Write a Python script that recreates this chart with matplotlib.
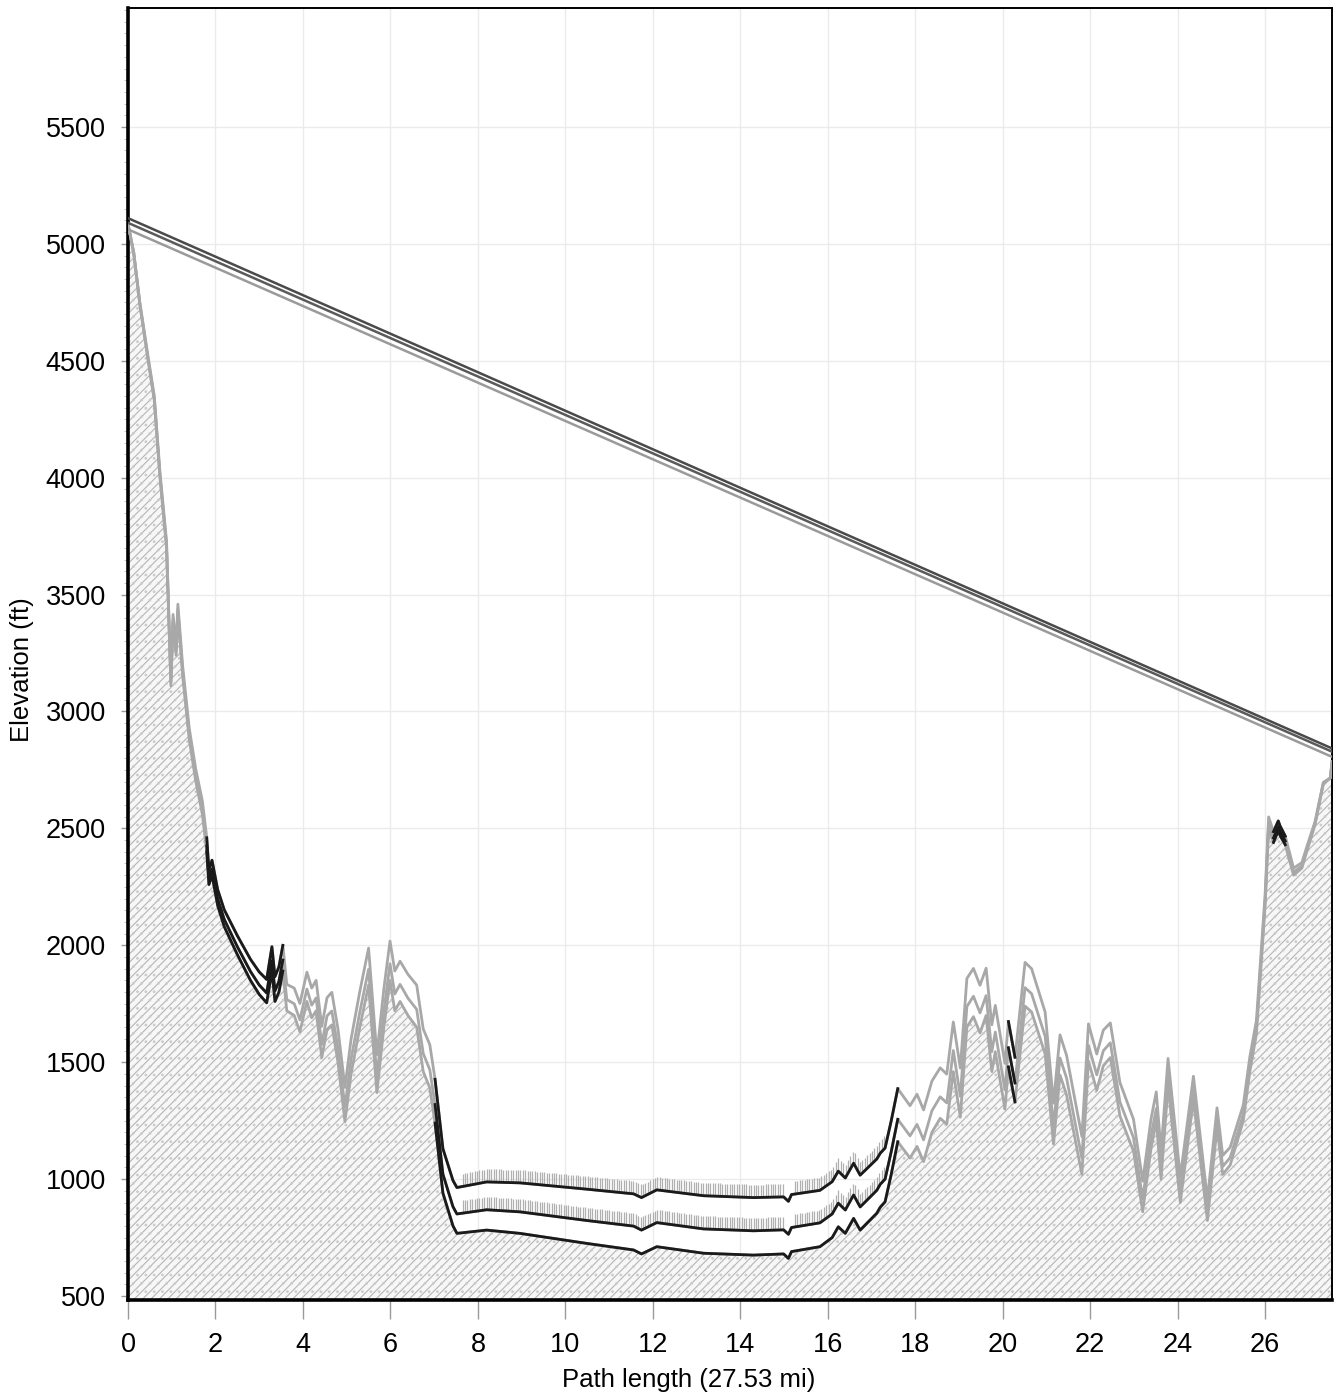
import numpy as np
import matplotlib.pyplot as plt

plt.rcParams['font.family'] = ['Liberation Sans', 'DejaVu Sans']
plt.rcParams['hatch.linewidth'] = 0.8

# distance along the path (mi)
dist = [0.00, 0.13, 0.27, 0.46, 0.60, 0.73, 0.88, 0.98, 1.03, 1.10, 1.14, 1.25, 1.40, 1.55,
        1.70, 1.80, 1.85, 1.92, 2.05, 2.20, 2.50, 2.80, 3.00, 3.17, 3.29, 3.36, 3.45, 3.54,
        3.63, 3.80, 3.93, 4.09, 4.20, 4.30, 4.43, 4.55, 4.66, 4.80, 4.96, 5.10, 5.30, 5.50,
        5.69, 5.85, 5.99, 6.10, 6.22, 6.40, 6.60, 6.75, 6.90, 7.02, 7.20, 7.43, 7.52, 8.20,
        8.96, 10.49, 11.56, 11.74, 12.09, 13.16, 14.30, 14.99, 15.10, 15.17, 15.82, 16.10,
        16.24, 16.40, 16.59, 16.74, 17.12, 17.20, 17.31, 17.45, 17.60, 17.88, 18.04, 18.19,
        18.38, 18.57, 18.72, 18.87, 19.03, 19.18, 19.33, 19.48, 19.62, 19.75, 19.83, 20.05,
        20.13, 20.28, 20.51, 20.66, 20.97, 21.16, 21.31, 21.46, 21.81, 21.96, 22.15, 22.30,
        22.46, 22.68, 22.99, 23.20, 23.39, 23.51, 23.62, 23.78, 24.06, 24.36, 24.68, 24.90,
        25.03, 25.20, 25.50, 25.65, 25.80, 26.00, 26.08, 26.19, 26.30, 26.34, 26.46, 26.65,
        26.84, 26.95, 27.14, 27.33, 27.49, 27.53]

# ground profile (ft)
ground = [5085, 4960, 4740, 4500, 4330, 4000, 3700, 3110, 3380, 3240, 3420, 3150, 2880, 2700,
          2560, 2400, 2260, 2300, 2170, 2080, 1960, 1850, 1790, 1754, 1890, 1760, 1800, 1890,
          1720, 1700, 1630, 1760, 1690, 1720, 1520, 1640, 1660, 1500, 1246, 1450, 1650, 1830,
          1370, 1650, 1850, 1720, 1760, 1700, 1650, 1460, 1390, 1240, 940, 800, 768, 782,
          768, 725, 697, 680, 711, 683, 675, 680, 661, 690, 711, 750,
          796, 768, 832, 782, 854, 880, 903, 1020, 1160, 1090, 1140, 1075,
          1200, 1260, 1235, 1460, 1265, 1650, 1695, 1625, 1700, 1460, 1545, 1300,
          1480, 1330, 1740, 1715, 1535, 1150, 1445, 1360, 1020, 1505, 1380, 1485,
          1520, 1270, 1120, 860, 1130, 1250, 1000, 1400, 900, 1340, 823, 1220,
          1020, 1060, 1250, 1460, 1620, 2170, 2500, 2440, 2490, 2470, 2430, 2300,
          2330, 2400, 2515, 2690, 2715, 2785]

# earth bulge added for the second and third k-factor (ft)
bulge_mid = [0, 2, 4, 7, 9, 11, 13, 14, 15, 16, 17, 18, 20, 22,
             24, 25, 26, 27, 29, 31, 34, 38, 40, 42, 44, 45, 46, 47,
             48, 50, 51, 53, 54, 55, 56, 58, 59, 60, 62, 63, 65, 67,
             68, 70, 71, 72, 73, 74, 76, 77, 78, 79, 81, 82, 83, 87,
             92, 98, 102, 102, 103, 104, 104, 103, 103, 103, 102, 101,
             101, 100, 100, 99, 98, 98, 97, 97, 96, 95, 94, 93,
             92, 92, 91, 90, 89, 88, 87, 86, 85, 85, 84, 82,
             82, 81, 79, 78, 76, 74, 73, 72, 69, 67, 66, 64,
             63, 60, 57, 55, 53, 52, 51, 49, 46, 42, 39, 36,
             34, 32, 28, 27, 25, 22, 21, 19, 18, 17, 16, 13,
             10, 9, 6, 3, 1, 0]
bulge_top = [0, 5, 10, 16, 21, 25, 30, 34, 35, 38, 39, 43, 48, 52,
             57, 60, 62, 64, 68, 72, 81, 90, 96, 100, 104, 106, 108, 110,
             113, 117, 121, 125, 127, 130, 133, 136, 139, 142, 146, 149, 153, 158,
             162, 165, 168, 170, 172, 176, 180, 182, 185, 187, 190, 194, 196, 206,
             216, 232, 240, 241, 243, 246, 246, 244, 244, 244, 241, 239,
             238, 237, 236, 235, 232, 231, 230, 229, 227, 224, 223, 221,
             219, 216, 214, 212, 210, 208, 206, 204, 202, 200, 198, 195,
             194, 191, 187, 185, 179, 175, 172, 169, 162, 159, 155, 152,
             148, 143, 136, 131, 126, 123, 120, 116, 109, 100, 91, 85,
             81, 76, 67, 63, 58, 52, 49, 46, 42, 41, 37, 30,
             24, 20, 14, 7, 1, 0]

# line of sight rays (ft) at each end of the path
path_len = 27.53
los_start = [5110, 5090, 5062]
los_end = [2842, 2828, 2806]
los_colors = ['#4a4a4a', '#5a5a5a', '#9a9a9a']

# stretches of the profile drawn in black (mi)
dark_spans = [(1.78, 3.6), (4.40, 4.45), (4.90, 5.0), (6.74, 6.76), (7.0, 17.62),
              (20.12, 20.30), (23.0, 23.25), (24.6, 24.7), (26.15, 26.5)]

x = np.array(dist)
low = np.array(ground, dtype=float)
mid = low + np.array(bulge_mid)
top = low + np.array(bulge_top)

fig = plt.figure(figsize=(13.35, 13.95), dpi=100)
ax = fig.add_axes([0.0959, 0.0681, 0.9019, 0.9262])

ymin, ymax = 483, 6009

# terrain fill
ax.fill_between(x, low, ymin, facecolor='#f7f7f7', edgecolor='#b6b6b6', hatch='////',
                linewidth=0, zorder=1)
ax.fill_between(x, low, ymin, facecolor='none', edgecolor='#cccccc', hatch='..',
                linewidth=0, zorder=1)

# clutter marks over the flat stretch
cx = np.concatenate([np.arange(7.65, 15.0, 0.055), np.arange(15.25, 17.3, 0.055)])
for curve in (mid, top):
    cy = np.interp(cx, x, curve)
    ax.vlines(cx, cy, cy + 55, color='#b0b0b0', linewidth=0.9, zorder=2)

# profile lines for the three k-factors
dark = np.zeros(len(x), dtype=bool)
for a, b in dark_spans:
    dark |= (x >= a) & (x <= b)
for curve in (low, mid, top):
    ax.plot(x, curve, color='#a8a8a8', linewidth=2.0, zorder=3)
    ax.plot(x, np.where(dark, curve, np.nan), color='#1a1a1a', linewidth=2.0, zorder=4)

# line of sight rays
for y0, y1, c in zip(los_start, los_end, los_colors):
    ax.plot([0, path_len], [y0, y1], color=c, linewidth=1.8, zorder=5)

ax.set_xlim(0, path_len)
ax.set_ylim(ymin, ymax)
ax.set_xticks(np.arange(0, 27, 2))
ax.set_yticks(np.arange(500, 5501, 500))
ax.set_yticks(np.arange(500, 6001, 50), minor=True)
ax.grid(True, which='major', color='#ebebeb', linewidth=1.0, zorder=0)
ax.set_axisbelow(True)

ax.tick_params(axis='x', direction='out', length=14, width=1, color='#9a9a9a',
               labelsize=19.5, pad=9)
ax.tick_params(axis='y', direction='out', length=5, width=1, color='#9a9a9a',
               labelsize=19.5, pad=11)
ax.tick_params(axis='y', which='minor', direction='out', length=3, width=0.6, color='#bdbdbd')

for side in ('left', 'bottom'):
    ax.spines[side].set_linewidth(2.6)
for side in ('top', 'right'):
    ax.spines[side].set_linewidth(1.4)

ax.set_xlabel('Path length (27.53 mi)', fontsize=18.5)
ax.set_ylabel('Elevation (ft)', fontsize=18.5)
ax.xaxis.set_label_coords(0.466, -0.053)
ax.yaxis.set_label_coords(-0.078, 0.488)

fig.savefig('out.png', dpi=100)
